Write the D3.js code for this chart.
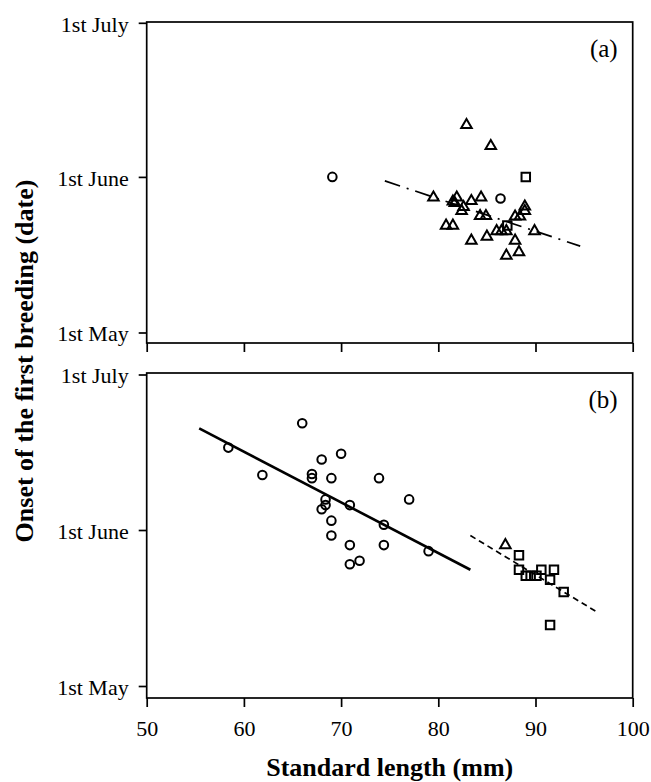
<!DOCTYPE html>
<html>
<head>
<meta charset="utf-8">
<script src="https://cdn.jsdelivr.net/npm/d3@7"></script>
<style>
  body { margin: 0; background: #fff; }
  svg { display: block; }
  text { font-family: "Liberation Serif", "Times New Roman", serif; fill: #000; }
</style>
</head>
<body>
<div id="chart"></div>
<script>
// x = standard length (mm), y = days after 1st May
var xTicks = [50, 60, 70, 80, 90, 100];
var dayTicks = [0, 31, 61];
var dayLabels = ['1st May', '1st June', '1st July'];

// panel (a)
var aCircles = [[69.1, 31], [86.4, 26.7]];
var aSquares = [[89.0, 31], [87.1, 21.3]];
var aTriangles = [
  [82.9, 41.1], [85.4, 37.0], [79.5, 26.9], [81.9, 26.9], [81.5, 26.1], [81.7, 25.8],
  [83.4, 26.2], [84.4, 26.9], [82.6, 25.0], [82.4, 24.2], [84.3, 23.2], [84.9, 23.2],
  [80.8, 21.3], [81.5, 21.3], [83.4, 18.3], [85.0, 19.1], [86.0, 20.2], [86.5, 20.2],
  [87.0, 20.2], [87.9, 18.3], [87.0, 15.3], [88.3, 16.0], [87.9, 23.1], [88.4, 23.1],
  [88.9, 25.1], [88.9, 24.2], [89.9, 20.2]
];
var aFit = [[74.5, 30.2], [94.6, 17.2]];

// panel (b)
var bCircles = [
  [66.0, 51.6], [58.4, 46.9], [61.9, 41.6], [68.0, 44.6], [70.0, 45.7], [67.0, 41.8],
  [67.0, 41.0], [69.0, 41.0], [73.9, 41.0], [77.0, 36.9], [68.4, 36.9], [68.4, 35.8],
  [68.0, 35.0], [70.9, 35.8], [69.0, 32.8], [74.4, 32.0], [69.0, 29.9], [70.9, 28.0],
  [74.4, 28.0], [79.0, 26.8], [70.9, 24.2], [71.9, 24.9]
];
var bTriangles = [[86.9, 28.0]];
var bSquares = [
  [88.3, 26.0], [88.3, 23.1], [89.0, 21.9], [89.5, 21.9], [90.1, 21.9], [90.6, 23.1],
  [91.9, 23.1], [91.5, 21.1], [92.9, 18.7], [91.5, 12.1]
];
var bFitSolid = [[55.4, 50.6], [83.3, 23.1]];
var bFitDashed = [[83.3, 29.9], [96.5, 14.5]];

var width = 651, height = 782;
var left = 146.7, right = 632.7;
var serif = '"Liberation Serif", "Times New Roman", serif';

var svg = d3.select('#chart')
  .append('svg')
    .attr('width', width)
    .attr('height', height);

var x = d3.scaleLinear().domain([50, 100]).range([left, right]);

var symTri = d3.symbol().type(d3.symbolTriangle).size(48);
var symSq = d3.symbol().type(d3.symbolSquare).size(72);

var drawPanel = function(p){
  var y = d3.scaleLinear().domain(dayTicks).range(p.yRange);
  var g = svg.append('g');

  // frame
  g.append('rect')
    .attr('x', left).attr('y', p.top)
    .attr('width', right - left).attr('height', p.bottom - p.top)
    .attr('fill', 'none').attr('stroke', '#000').attr('stroke-width', 1.7);

  var ya = g.append('g')
    .attr('transform', 'translate(' + left + ',0)')
    .call(d3.axisLeft(y).tickValues(dayTicks).tickSize(8).tickPadding(10)
      .tickFormat(function(d, i){ return dayLabels[i]; }));
  ya.select('.domain').remove();
  ya.selectAll('line').attr('stroke-width', 1.7);
  ya.selectAll('text').attr('font-size', 22).attr('dy', '0.38em')
    .style('font-family', serif);

  var xa = g.append('g')
    .attr('transform', 'translate(0,' + p.bottom + ')')
    .call(d3.axisBottom(x).tickValues(xTicks).tickSize(9).tickPadding(13)
      .tickFormat(p.xLabels ? d3.format('d') : ''));
  xa.select('.domain').remove();
  xa.selectAll('line').attr('stroke-width', 1.7);
  xa.selectAll('text').attr('font-size', 22)
    .style('font-family', serif);

  // fitted lines
  var line = d3.line().x(function(d){ return x(d[0]); }).y(function(d){ return y(d[1]); });
  p.fits.forEach(function(f){
    g.append('path')
      .attr('d', line(f.data))
      .attr('fill', 'none')
      .attr('stroke', '#000')
      .attr('stroke-width', f.width)
      .attr('stroke-dasharray', f.dash);
  });

  g.selectAll('circle.pt')
    .data(p.circles)
    .enter().append('circle')
      .attr('class', 'pt')
      .attr('cx', function(d){ return x(d[0]); })
      .attr('cy', function(d){ return y(d[1]); })
      .attr('r', 4.3)
      .attr('fill', 'none').attr('stroke', '#000').attr('stroke-width', 2);

  g.selectAll('path.tri')
    .data(p.triangles)
    .enter().append('path')
      .attr('class', 'tri')
      .attr('d', symTri)
      .attr('transform', function(d){ return 'translate(' + x(d[0]) + ',' + y(d[1]) + ')'; })
      .attr('fill', 'none').attr('stroke', '#000').attr('stroke-width', 2);

  g.selectAll('path.sq')
    .data(p.squares)
    .enter().append('path')
      .attr('class', 'sq')
      .attr('d', symSq)
      .attr('transform', function(d){ return 'translate(' + x(d[0]) + ',' + y(d[1]) + ')'; })
      .attr('fill', 'none').attr('stroke', '#000').attr('stroke-width', 2);

  g.append('text')
    .attr('x', right - 15)
    .attr('y', p.top + 35)
    .attr('text-anchor', 'end')
    .attr('font-size', 25)
    .text(p.tag);
};

drawPanel({
  top: 22, bottom: 343, yRange: [332.5, 176.9, 22.8],
  xLabels: false, tag: '(a)',
  circles: aCircles, triangles: aTriangles, squares: aSquares,
  fits: [{data: aFit, width: 1.7, dash: '16,7,2,7'}]
});

drawPanel({
  top: 373, bottom: 698, yRange: [686, 530, 374.5],
  xLabels: true, tag: '(b)',
  circles: bCircles, triangles: bTriangles, squares: bSquares,
  fits: [
    {data: bFitSolid, width: 2.6, dash: null},
    {data: bFitDashed, width: 1.7, dash: '6,4'}
  ]
});

svg.append('text')
  .attr('x', (left + right) / 2)
  .attr('y', 776)
  .attr('text-anchor', 'middle')
  .attr('font-size', 26)
  .attr('font-weight', 'bold')
  .text('Standard length (mm)');

svg.append('text')
  .attr('transform', 'translate(33,361) rotate(-90)')
  .attr('text-anchor', 'middle')
  .attr('font-size', 26)
  .attr('font-weight', 'bold')
  .text('Onset of the first breeding (date)');
</script>
</body>
</html>
